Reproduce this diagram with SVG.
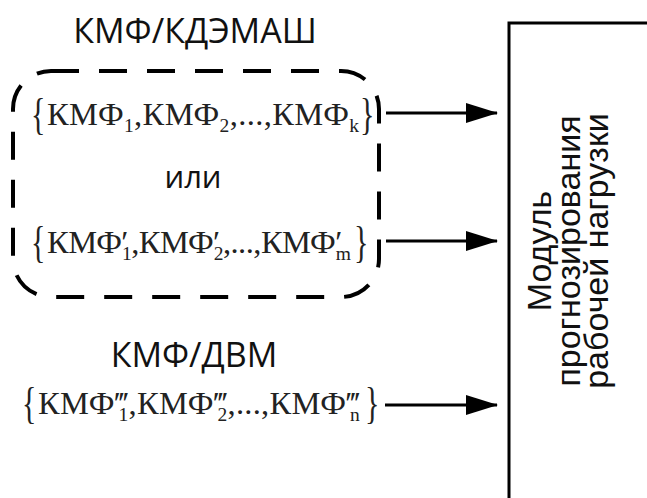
<svg xmlns="http://www.w3.org/2000/svg" width="647" height="498" viewBox="0 0 647 498">
  <defs>
    <style>
      .label { font-family: "Open Sans", "Noto Sans", sans-serif; font-size: 34px; fill: #111; text-anchor: middle; }
      .or { font-size: 31px; }
      .math { font-family: "Liberation Serif", "DejaVu Serif", serif; font-size: 32.5px; fill: #222; }
      .brace { font-family: "Liberation Serif", "DejaVu Serif", serif; font-size: 30px; fill: #222; }
      .sub { font-size: 19.5px; }
      .mod { font-family: "Liberation Sans", Arial, sans-serif; font-size: 34px; fill: #111; text-anchor: middle; }
      .wire { stroke: #000; stroke-width: 3; fill: none; }
      .group-box { stroke: #000; stroke-width: 4; fill: none; stroke-dasharray: 28 20; }
    </style>
    <marker id="head" viewBox="0 0 32 20" refX="31" refY="10" markerWidth="32" markerHeight="20" markerUnits="userSpaceOnUse" orient="auto">
      <path d="M0,0 L32,10 L0,20 Z" fill="#000"/>
    </marker>
  </defs>
  <rect width="647" height="498" fill="#fff"/>

  <!-- heading of the upper input group -->
  <g id="title-kdemash">
    <text class="label" x="195" y="43">КМФ/КДЭМАШ</text>
  </g>

  <!-- dashed frame with the two alternative sets -->
  <g id="kdemash-group">
    <rect class="group-box" x="13" y="71" width="366" height="226" rx="38" ry="38"/>
    <text class="brace" transform="translate(31,117) scale(1,1.45)" y="8">{</text>
    <text class="math" x="47" y="125" textLength="312">КМФ<tspan class="sub" dy="7">1</tspan><tspan dy="-7">,КМФ</tspan><tspan class="sub" dy="7">2</tspan><tspan dy="-7">,...,КМФ</tspan><tspan class="sub" dy="7">k</tspan></text>
    <text class="brace" transform="translate(360,117) scale(1,1.45)" y="8">}</text>
    <text class="label or" x="193" y="188">или</text>
    <text class="brace" transform="translate(31,245) scale(1,1.45)" y="8">{</text>
    <text class="math" x="47" y="253" textLength="304">КМФ<tspan>′</tspan><tspan class="sub" dx="-6" dy="7">1</tspan><tspan dy="-7">,КМФ</tspan><tspan>′</tspan><tspan class="sub" dx="-6" dy="7">2</tspan><tspan dy="-7">,...,КМФ</tspan><tspan>′</tspan><tspan class="sub" dx="-6" dy="7">m</tspan></text>
    <text class="brace" transform="translate(354,245) scale(1,1.45)" y="8">}</text>
  </g>

  <!-- lower input group -->
  <g id="dvm-group">
    <text class="label" x="194" y="367">КМФ/ДВМ</text>
    <text class="brace" transform="translate(22,406) scale(1,1.45)" y="8">{</text>
    <text class="math" x="38" y="414" textLength="322">КМФ<tspan>‴</tspan><tspan class="sub" dx="-10" dy="7">1</tspan><tspan dy="-7">,КМФ</tspan><tspan>‴</tspan><tspan class="sub" dx="-10" dy="7">2</tspan><tspan dy="-7">,...,КМФ</tspan><tspan>‴</tspan><tspan class="sub" dx="-10" dy="7">n</tspan></text>
    <text class="brace" transform="translate(365,406) scale(1,1.45)" y="8">}</text>
  </g>

  <!-- forecasting module -->
  <g id="forecast-module">
    <rect class="wire" x="509" y="23" width="160" height="500"/>
    <g transform="translate(0,251) rotate(-90)">
      <text class="mod" x="0" y="551">Модуль</text>
      <text class="mod" x="0" y="580">прогнозирования</text>
      <text class="mod" x="0" y="608">рабочей нагрузки</text>
    </g>
  </g>

  <!-- inputs into the module -->
  <g id="connectors">
    <line class="wire" x1="386" y1="113" x2="497" y2="113" marker-end="url(#head)"/>
    <line class="wire" x1="386" y1="241" x2="497" y2="241" marker-end="url(#head)"/>
    <line class="wire" x1="385" y1="405" x2="497" y2="405" marker-end="url(#head)"/>
  </g>
</svg>
